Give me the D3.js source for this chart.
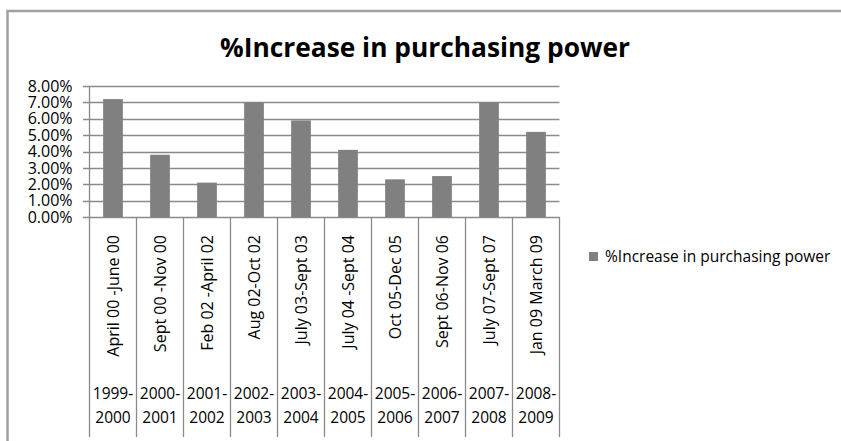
<!DOCTYPE html>
<html>
<head>
<meta charset="utf-8">
<script src="https://cdn.jsdelivr.net/npm/d3@7"></script>
<style>
	body { margin: 0; background: #fff; }
	svg { display: block; font-family: 'Open Sans', sans-serif; }
</style>
</head>
<body>
<svg id="chart"></svg>
<script>
// chart data
const periods = [
	'April 00 -June 00', 'Sept 00 -Nov 00', 'Feb 02 -April 02', 'Aug 02-Oct 02',
	'July 03-Sept 03', 'July 04 -Sept 04', 'Oct 05-Dec 05', 'Sept 06-Nov 06',
	'July 07-Sept 07', 'Jan 09 March 09'
] ;
const years = [
	['1999-', '2000'], ['2000-', '2001'], ['2001-', '2002'], ['2002-', '2003'],
	['2003-', '2004'], ['2004-', '2005'], ['2005-', '2006'], ['2006-', '2007'],
	['2007-', '2008'], ['2008-', '2009']
] ;
const increase = [ 0.072, 0.038, 0.021, 0.070, 0.059, 0.041, 0.023, 0.025, 0.070, 0.052 ] ;
const yTicks = [ 0, 0.01, 0.02, 0.03, 0.04, 0.05, 0.06, 0.07, 0.08 ] ;
const seriesName = '%Increase in purchasing power' ;
const title = '%Increase in purchasing power' ;

const geom = {
	width: 841,
	height: 441,
	margins: { left: 89.5, right: 281.5, top: 86, bottom: 224 }
} ;
const plotBottom = geom.height - geom.margins.bottom ;
const plotRight = geom.width - geom.margins.right ;

const svg = d3.select( '#chart' )
	.attr( 'width', geom.width )
	.attr( 'height', geom.height ) ;

// chart area border (runs off the right and bottom)
svg.append( 'path' )
	.attr( 'd', 'M7.5,' + geom.height + 'V11H' + geom.width )
	.attr( 'fill', 'none' )
	.attr( 'stroke', '#a0a0a0' )
	.attr( 'stroke-width', 2.5 ) ;

const x = d3.scaleBand()
	.domain( periods )
	.range( [ geom.margins.left, plotRight ] )
	.paddingInner( 0.58 )
	.paddingOuter( 0.29 ) ;

const y = d3.scaleLinear()
	.domain( [ 0, 0.08 ] )
	.range( [ plotBottom, geom.margins.top ] ) ;

const gap = ( x.step() - x.bandwidth() ) / 2 ;
const bounds = periods.map( p => x(p) - gap ).concat( [ plotRight ] ) ;

// horizontal grid lines
svg.selectAll( 'line.horizontal' )
	.data( yTicks )
	.enter()
	.append( 'line' )
	.attr( 'class', 'horizontal' )
	.attr( 'x1', geom.margins.left - 6.5 )
	.attr( 'x2', plotRight )
	.attr( 'y1', d => Math.round( y(d) ) + 0.5 )
	.attr( 'y2', d => Math.round( y(d) ) + 0.5 )
	.attr( 'stroke', '#8a8a8a' )
	.attr( 'stroke-width', 1.3 ) ;

// category separators, down through the label rows
svg.selectAll( 'line.vertical' )
	.data( bounds )
	.enter()
	.append( 'line' )
	.attr( 'class', 'vertical' )
	.attr( 'x1', d => d )
	.attr( 'x2', d => d )
	.attr( 'y1', geom.margins.top )
	.attr( 'y2', 437 )
	.attr( 'stroke', '#8a8a8a' )
	.attr( 'stroke-width', 1.3 )
	.filter( (d, i) => i > 0 )
	.attr( 'y1', plotBottom ) ;

svg.selectAll( 'rect.bar' )
	.data( increase )
	.enter()
	.append( 'rect' )
	.attr( 'class', 'bar' )
	.attr( 'x', (d, i) => x( periods[i] ) )
	.attr( 'width', x.bandwidth() )
	.attr( 'y', d => y(d) )
	.attr( 'height', d => plotBottom - y(d) )
	.attr( 'fill', '#808080' ) ;

// y axis labels
svg.append( 'g' )
	.attr( 'transform', 'translate(' + geom.margins.left + ',0)' )
	.call( d3.axisLeft( y ).tickValues( yTicks ).tickFormat( d3.format( '.2%' ) ).tickSize( 0 ).tickPadding( 17 ) )
	.call( g => g.select( '.domain' ).remove() )
	.selectAll( 'text' )
	.attr( 'font-family', "'Open Sans', sans-serif" )
	.attr( 'font-size', '16px' )
	.attr( 'fill', '#000' ) ;

// rotated period labels
svg.selectAll( 'text.period' )
	.data( periods )
	.enter()
	.append( 'text' )
	.attr( 'class', 'period' )
	.attr( 'transform', d => 'translate(' + ( x(d) + x.bandwidth() / 2 ) + ',235) rotate(-90)' )
	.attr( 'text-anchor', 'end' )
	.attr( 'dy', '0.35em' )
	.attr( 'font-size', '16px' )
	.text( d => d ) ;

// financial year labels
const yearText = svg.selectAll( 'text.year' )
	.data( years )
	.enter()
	.append( 'text' )
	.attr( 'class', 'year' )
	.attr( 'text-anchor', 'middle' )
	.attr( 'font-size', '15.5px' ) ;
yearText.append( 'tspan' )
	.attr( 'x', (d, i) => x( periods[i] ) + x.bandwidth() / 2 )
	.attr( 'y', 399 )
	.text( d => d[0] ) ;
yearText.append( 'tspan' )
	.attr( 'x', (d, i) => x( periods[i] ) + x.bandwidth() / 2 )
	.attr( 'y', 423 )
	.text( d => d[1] ) ;

// title
svg.append( 'text' )
	.attr( 'x', 425 )
	.attr( 'y', 57 )
	.attr( 'text-anchor', 'middle' )
	.attr( 'font-size', '26px' )
	.attr( 'font-weight', 'bold' )
	.attr( 'textLength', 410 )
	.attr( 'lengthAdjust', 'spacingAndGlyphs' )
	.text( title ) ;

// legend
const legend = svg.append( 'g' )
	.attr( 'transform', 'translate(589,252)' ) ;
legend.append( 'rect' )
	.attr( 'width', 9 )
	.attr( 'height', 9 )
	.attr( 'fill', '#808080' ) ;
legend.append( 'text' )
	.attr( 'x', 16 )
	.attr( 'y', 10 )
	.attr( 'font-size', '15.5px' )
	.text( seriesName ) ;
</script>
</body>
</html>
